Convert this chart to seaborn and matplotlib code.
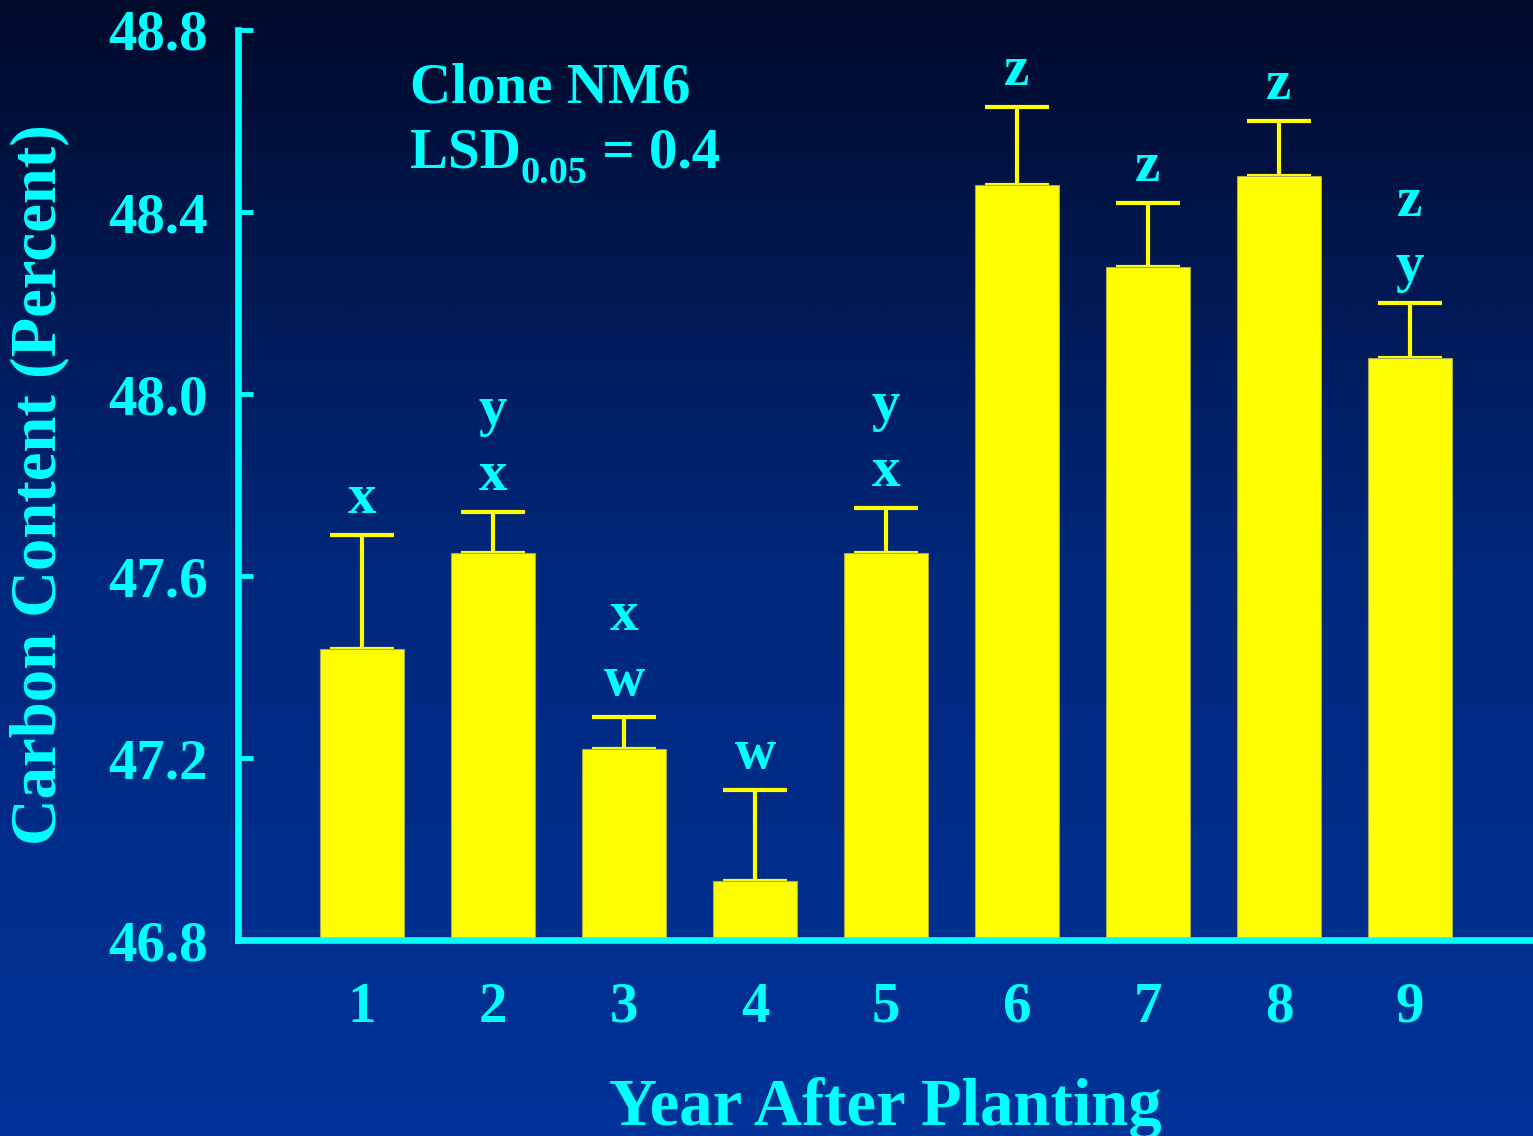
import numpy as np
import pandas as pd
import matplotlib
matplotlib.use("Agg")
import matplotlib.pyplot as plt
from matplotlib.colors import LinearSegmentedColormap
import seaborn as sns

# Carbon content of clone NM6 by year after planting
years = ["1", "2", "3", "4", "5", "6", "7", "8", "9"]
carbon = [47.44, 47.65, 47.22, 46.93, 47.65, 48.46, 48.28, 48.48, 48.08]
std_err = [0.25, 0.09, 0.07, 0.20, 0.10, 0.17, 0.14, 0.12, 0.12]
groups = [["x"], ["x", "y"], ["w", "x"], ["w"], ["x", "y"],
          ["z"], ["z"], ["z"], ["y", "z"]]
y_ticks = [46.8, 47.2, 47.6, 48.0, 48.4, 48.8]
y_tick_labels = ["46.8", "47.2", "47.6", "48.0", "48.4", "48.8"]

CYAN = "#00ffff"
YELLOW = "#ffff00"

sns.set_theme(style="ticks")
plt.rcParams["font.family"] = ["Liberation Serif", "DejaVu Serif"]
plt.rcParams["font.weight"] = "bold"

df = pd.DataFrame({"year": years, "carbon": carbon})

fig = plt.figure(figsize=(15.33, 11.36), dpi=100)
fig.patch.set_facecolor("#003399")

# vertical background gradient, dark navy at top to blue at bottom
bg = fig.add_axes([0, 0, 1, 1], zorder=-10)
grad = np.linspace(0, 1, 512).reshape(-1, 1)
cmap = LinearSegmentedColormap.from_list(
    "bg", [(0.0, "#003399"), (0.5, "#00287c"), (1.0, "#000a2a")])
bg.imshow(grad, aspect="auto", cmap=cmap, extent=[0, 1, 0, 1], origin="lower")
bg.axis("off")

ax = fig.add_axes([0.1553, 0.1725, 0.8447, 0.8011])
ax.set_facecolor("none")

sns.barplot(data=df, x="year", y="carbon", color=YELLOW, saturation=1,
            width=0.64, edgecolor="#a8a850", linewidth=0.8,
            errorbar=None, ax=ax, zorder=2)

xpos = np.arange(len(years))
ax.errorbar(xpos, carbon, yerr=[np.zeros(len(carbon)), std_err],
            fmt="none", ecolor=YELLOW, elinewidth=3, capsize=23,
            capthick=3, zorder=1.9)

# mean-separation letters above the error bars
for i, (val, err, labs) in enumerate(zip(carbon, std_err, groups)):
    for k, lab in enumerate(labs):
        ax.annotate(lab, xy=(i, val + err), xytext=(0, 16 + 47 * k),
                    textcoords="offset points", ha="center", va="baseline",
                    fontsize=41, fontweight="bold", color=CYAN)

ax.set_xlim(-0.947, 8.939)
ax.set_ylim(46.8, 48.8)
ax.set_yticks(y_ticks)
ax.set_yticklabels(y_tick_labels)

for side in ["top", "right"]:
    ax.spines[side].set_visible(False)
for side in ["left", "bottom"]:
    ax.spines[side].set_color(CYAN)
    ax.spines[side].set_linewidth(4.8)
    ax.spines[side].set_zorder(5)

ax.tick_params(axis="y", direction="in", length=11, width=3.5, color=CYAN,
               labelcolor=CYAN, labelsize=41, pad=22)
ax.tick_params(axis="x", direction="in", length=4, width=1.2, color="#000000",
               labelcolor=CYAN, labelsize=41, pad=30)
for lbl in ax.get_xticklabels() + ax.get_yticklabels():
    lbl.set_fontweight("bold")

ax.set_xlabel("Year After Planting", fontsize=48, fontweight="bold",
              color=CYAN, va="baseline")
ax.xaxis.set_label_coords(0.5, -0.2033)
ax.set_ylabel("Carbon Content (Percent)", fontsize=46.5, fontweight="bold",
              color=CYAN, va="center")
ax.yaxis.set_label_coords(-0.153, 0.5)

ax.text(0.1328, 0.9198, "Clone NM6", transform=ax.transAxes, fontsize=41,
        fontweight="bold", color=CYAN, ha="left", va="baseline")

# LSD line built from pieces so the subscript sits well below the baseline
lsd = ax.text(0.1328, 0.8484, "LSD", transform=ax.transAxes, fontsize=41,
              fontweight="bold", color=CYAN, ha="left", va="baseline")
sub = ax.annotate("0.05", xy=(1, 0), xycoords=lsd, xytext=(0, -8),
                  textcoords="offset points", fontsize=27.5, fontweight="bold",
                  color=CYAN, ha="left", va="bottom")
ax.annotate(" = 0.4", xy=(1, 0), xycoords=(sub, lsd), xytext=(0, 0),
            textcoords="offset points", fontsize=41, fontweight="bold",
            color=CYAN, ha="left", va="bottom")

fig.savefig("out.png", dpi=100)
